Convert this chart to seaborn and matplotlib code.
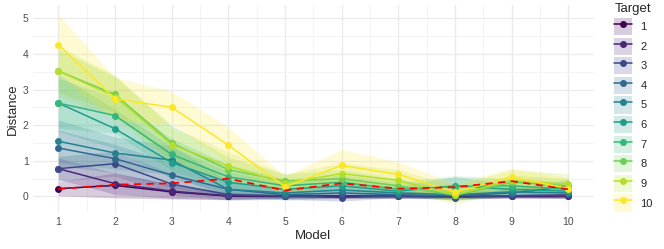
import numpy as np
import pandas as pd
import seaborn as sns
import matplotlib
matplotlib.use("Agg")
import matplotlib.pyplot as plt
from matplotlib.patches import Patch
from matplotlib.lines import Line2D
from matplotlib.legend_handler import HandlerTuple
from matplotlib.ticker import MultipleLocator
from matplotlib import colormaps

models = [1, 2, 3, 4, 5, 6, 7, 8, 9, 10]
targets = [1, 2, 3, 4, 5, 6, 7, 8, 9, 10]

dist_t1 = [0.22, 0.31, 0.13, 0.01, 0.00, 0.00, 0.00, 0.00, 0.00, 0.00]
dist_t2 = [0.78, 0.36, 0.15, 0.02, 0.01, 0.02, 0.01, 0.01, 0.01, 0.01]
dist_t3 = [0.78, 0.92, 0.35, 0.05, 0.02, -0.03, 0.02, -0.03, 0.02, 0.05]
dist_t4 = [1.36, 1.06, 0.60, 0.20, 0.05, 0.10, 0.05, 0.02, 0.10, 0.28]
dist_t5 = [1.55, 1.22, 1.02, 0.20, 0.10, 0.18, 0.10, 0.05, 0.13, 0.10]
dist_t6 = [2.62, 1.90, 0.95, 0.40, 0.20, 0.30, 0.15, 0.30, 0.20, 0.15]
dist_t7 = [2.62, 2.27, 1.18, 0.55, 0.30, 0.40, 0.20, 0.28, 0.30, 0.20]
dist_t8 = [3.52, 2.86, 1.50, 0.75, 0.43, 0.50, 0.30, 0.03, 0.40, 0.30]
dist_t9 = [3.52, 2.80, 1.45, 0.85, 0.38, 0.64, 0.45, 0.05, 0.45, 0.34]
dist_t10 = [4.26, 2.74, 2.50, 1.44, 0.27, 0.87, 0.62, 0.12, 0.55, 0.22]

sd_t1 = [0.20, 0.35, 0.20, 0.10, 0.05, 0.05, 0.05, 0.05, 0.05, 0.05]
sd_t2 = [0.30, 0.30, 0.20, 0.10, 0.05, 0.05, 0.05, 0.05, 0.05, 0.05]
sd_t3 = [0.35, 0.35, 0.30, 0.15, 0.10, 0.10, 0.05, 0.05, 0.05, 0.10]
sd_t4 = [0.50, 0.40, 0.35, 0.20, 0.15, 0.15, 0.10, 0.10, 0.10, 0.20]
sd_t5 = [0.60, 0.45, 0.40, 0.25, 0.15, 0.20, 0.10, 0.15, 0.15, 0.15]
sd_t6 = [0.80, 0.55, 0.45, 0.30, 0.20, 0.20, 0.15, 0.25, 0.15, 0.15]
sd_t7 = [0.70, 0.50, 0.45, 0.35, 0.20, 0.20, 0.20, 0.30, 0.20, 0.20]
sd_t8 = [0.60, 0.50, 0.50, 0.35, 0.20, 0.25, 0.20, 0.15, 0.20, 0.20]
sd_t9 = [0.70, 0.60, 0.50, 0.40, 0.25, 0.30, 0.30, 0.25, 0.30, 0.30]
sd_t10 = [0.85, 0.60, 0.45, 0.50, 0.30, 0.45, 0.35, 0.25, 0.25, 0.30]

reference = [0.21, 0.33, 0.37, 0.50, 0.17, 0.37, 0.22, 0.26, 0.43, 0.20]

dists = [dist_t1, dist_t2, dist_t3, dist_t4, dist_t5, dist_t6, dist_t7, dist_t8, dist_t9, dist_t10]
sds = [sd_t1, sd_t2, sd_t3, sd_t4, sd_t5, sd_t6, sd_t7, sd_t8, sd_t9, sd_t10]

rows = []
for t, d, s in zip(targets, dists, sds):
    for m, v, e in zip(models, d, s):
        rows.append({"Model": m, "Distance": v, "sd": e, "Target": str(t)})
df = pd.DataFrame(rows)
ref_df = pd.DataFrame({"Model": models, "Distance": reference})

sns.set_theme(style="white")
plt.rcParams['font.family'] = ['Liberation Sans', 'DejaVu Sans']

cmap = colormaps["viridis"]
palette = [cmap(v) for v in np.linspace(0, 1, len(targets))]
hue_order = [str(t) for t in targets]
pal = dict(zip(hue_order, palette))

fig = plt.figure(figsize=(6.64, 2.49), dpi=100)
ax = fig.add_axes([0.0494, 0.145, 0.845, 0.835])

for t in hue_order:
    sub = df[df["Target"] == t]
    ax.fill_between(sub["Model"], sub["Distance"] - sub["sd"], sub["Distance"] + sub["sd"],
                    color=pal[t], alpha=0.2, linewidth=0, zorder=1)

sns.lineplot(data=df, x="Model", y="Distance", hue="Target", hue_order=hue_order,
             palette=pal, errorbar=None, marker="o", markersize=5, markeredgewidth=0,
             linewidth=1.1, ax=ax, legend=False, zorder=3)
sns.lineplot(data=ref_df, x="Model", y="Distance", color="red", linestyle=(0, (4, 3)),
             linewidth=1.3, ax=ax, zorder=4)

ax.set_xlim(0.55, 10.45)
ax.set_ylim(-0.46, 5.37)
ax.set_xticks(models)
ax.set_yticks([0, 1, 2, 3, 4, 5])
ax.xaxis.set_minor_locator(MultipleLocator(0.5))
ax.yaxis.set_minor_locator(MultipleLocator(0.5))
ax.grid(which="major", color="#EBEBEB", linewidth=1.0, zorder=0)
ax.grid(which="minor", color="#F2F2F2", linewidth=0.6, zorder=0)
ax.set_axisbelow(True)
for sp in ax.spines.values():
    sp.set_visible(False)
ax.tick_params(which="both", length=0, labelsize=7.5, labelcolor="#4D4D4D", pad=3)
ax.set_xlabel("Model", fontsize=9.5, labelpad=2)
ax.set_ylabel("Distance", fontsize=9.5, labelpad=3)

handles = []
for t in hue_order:
    c = pal[t]
    handles.append((Patch(facecolor=c, alpha=0.2, edgecolor="none"),
                    Line2D([], [], color=c, marker="o", markersize=4, linewidth=1.1)))
fig.legend(handles, hue_order, handler_map={tuple: HandlerTuple(ndivide=1)},
           title="Target", loc="upper left", bbox_to_anchor=(0.922, 0.995),
           frameon=False, fontsize=8, title_fontsize=9.5, handlelength=1.55,
           handleheight=2.0, labelspacing=0.22, handletextpad=0.8,
           alignment="left", borderaxespad=0, borderpad=0.2)

fig.savefig("out.png", dpi=100)
